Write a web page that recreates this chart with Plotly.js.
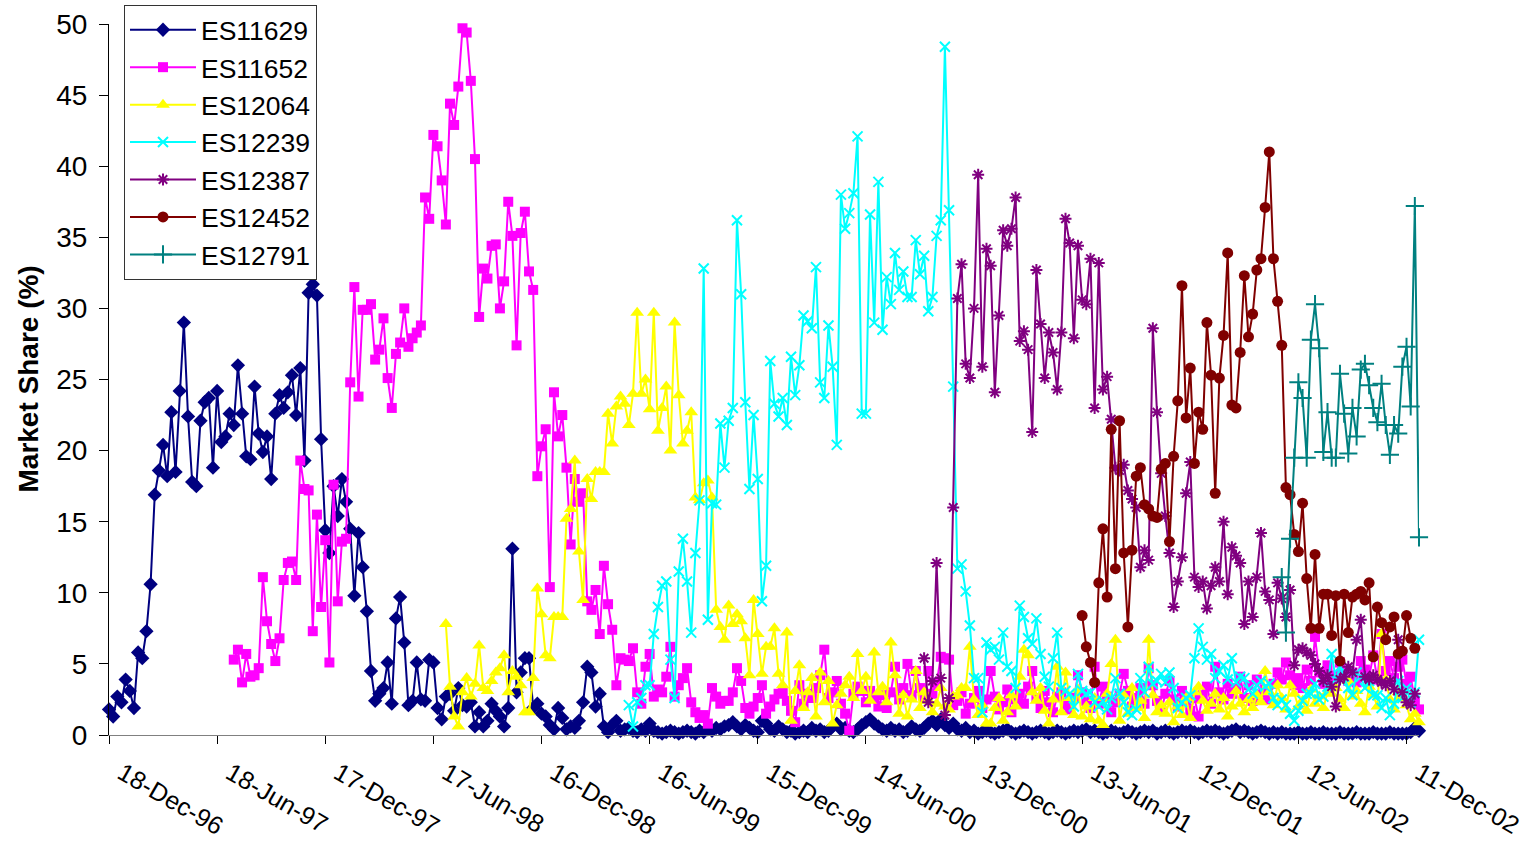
<!DOCTYPE html>
<html>
<head>
<meta charset="utf-8">
<script src="https://cdn.plot.ly/plotly-3.0.1.min.js"></script>
<style>html,body{margin:0;padding:0;background:#fff;}#chart{width:1526px;height:846px;}</style>
</head>
<body>
<div id="chart"></div>
<script>
// Weekly observations; index 0 = week of 18-Dec-96
const tickWeeks = [0, 26, 52, 78, 104, 130, 156, 182, 208, 234, 260, 286, 312];
const tickLabels = ["18-Dec-96", "18-Jun-97", "17-Dec-97", "17-Jun-98", "16-Dec-98", "16-Jun-99", "15-Dec-99", "14-Jun-00", "13-Dec-00", "13-Jun-01", "12-Dec-01", "12-Jun-02", "11-Dec-02"];
const yAxisTitle = "Market Share (%)";

const seriesNames = ["ES11629", "ES11652", "ES12064", "ES12239", "ES12387", "ES12452", "ES12791"];
const seriesStartWeek = [0, 30, 81, 125, 196, 234, 282];

const es11629 = [
1.8,1.3,2.7,2.3,3.9,3.1,1.9,5.8,5.4,7.3,
10.6,16.9,18.6,20.4,18.2,22.7,18.5,24.2,29.0,22.4,
17.8,17.5,22.1,23.4,23.7,18.8,24.2,20.6,21.0,22.6,
21.8,26.0,22.6,19.6,19.4,24.5,21.2,19.9,21.0,18.0,
22.6,23.9,23.0,24.1,25.3,22.5,25.8,19.3,31.1,31.7,
30.9,20.8,14.4,12.8,17.5,15.4,18.0,16.4,14.5,9.8,
14.2,11.8,8.7,4.5,2.4,2.9,3.3,5.1,2.2,8.2,
9.7,6.5,2.1,2.4,5.1,2.5,2.4,5.3,5.1,1.9,
1.1,2.7,2.9,1.7,3.3,2.1,2.0,2.3,0.6,1.6,
0.6,1.0,2.2,1.7,1.3,0.6,1.9,13.1,3.0,4.4,
5.4,5.4,1.9,2.2,1.5,1.3,0.7,0.4,1.9,1.2,
0.4,0.6,0.5,1.0,2.3,4.8,4.4,2.0,2.9,0.6,
0.2,0.7,1.0,0.3,0.4,
0.5,0.3,0.2,0.4,0.3,0.8,0.3,0.2,0.1,0.2,0.3,0.2,0.1,0.2,0.3,0.2,0.1,0.3,0.2,0.4,
0.3,0.5,0.4,0.6,0.7,0.9,0.6,0.4,0.7,0.5,0.3,0.2,1.0,0.8,0.4,0.3,0.6,0.4,0.2,0.3,
0.1,0.2,0.3,0.2,0.5,0.3,0.4,0.2,0.3,0.6,0.8,0.4,0.5,0.3,0.2,0.4,0.7,0.9,1.1,0.8,
0.6,0.4,0.3,0.5,0.3,0.4,0.2,0.3,0.6,0.4,0.3,0.5,0.8,1.0,0.7,1.1,0.7,0.5,0.8,0.4,
0.3,0.5,0.2,0.3,0.1,0.2,0.3,0.2,0.1,0.2,0.3,0.4,0.2,0.1,0.2,0.3,0.2,0.1,0.2,0.3,
0.2,0.1,0.2,0.3,0.2,0.1,0.2,0.3,0.2,0.3,0.4,0.2,0.3,0.2,0.1,0.2,0.3,0.2,0.1,0.2,
0.3,0.2,0.1,0.2,0.3,0.2,0.3,0.1,0.2,0.3,0.2,0.1,0.2,0.3,0.2,0.3,0.2,0.1,0.2,0.3,
0.2,0.3,0.2,0.1,0.2,0.3,0.4,0.2,0.3,0.2,0.1,0.2,0.3,0.2,0.1,0.2,0.1,0.2,0.1,0.1,
0.1,0.2,0.1,0.1,0.2,0.1,0.1,0.2,0.1,0.1,0.1,0.2,0.1,0.1,0.1,0.2,0.1,0.1,0.1,0.2,
0.1,0.1,0.1,0.2,0.1,0.1,0.1,0.1,0.2,0.5,0.3
];

const es11652 = [
5.3,6.0,3.7,5.7,4.1,4.2,4.7,11.1,8.0,6.4,
5.2,6.8,10.9,12.1,12.2,10.9,19.3,17.3,17.2,7.3,
15.5,9.0,13.7,5.1,17.6,9.4,13.6,13.8,24.8,31.5,
23.8,29.9,29.9,30.3,26.4,27.1,29.3,25.1,23.0,26.8,
27.6,30.0,27.3,27.9,28.3,28.8,37.8,36.3,42.2,41.4,
39.0,35.9,44.4,42.9,45.6,49.7,49.4,46.0,40.5,29.4,
32.8,32.1,34.4,34.5,30.0,31.9,37.5,35.1,27.4,35.3,
36.8,32.6,31.3,18.2,20.3,21.5,10.4,24.1,21.0,22.5,
18.8,13.4,18.0,16.4,17.0,9.4,8.8,10.2,7.1,11.9,
9.2,7.4,3.5,5.4,5.3,5.2,6.1,3.0,2.2,4.8,
5.7,2.7,3.2,3.0,4.1,6.2,2.7,3.5,4.0,4.7,
2.3,1.6,1.2,1.4,0.8,3.3,2.7,2.2,2.4,2.4,
3.0,4.7,3.8,1.9,1.5,2.0,2.6,3.5,1.5,2.0,2.5,2.9,3.0,
2.4,1.7,0.9,3.5,2.2,2.9,2.6,3.3,4.2,6.0,2.6,3.0,3.8,2.2,1.5,0.3,2.9,3.4,3.1,2.3,
3.1,2.6,2.0,2.8,1.9,3.0,4.8,2.5,3.3,5.0,2.8,4.5,3.3,2.6,4.5,2.9,3.6,5.5,5.4,5.3,
2.1,2.4,3.0,1.5,2.2,2.6,3.1,1.9,2.5,4.5,2.7,1.8,2.3,3.2,1.6,2.5,2.9,2.2,3.4,4.5,
2.6,1.9,3.1,2.3,1.6,2.7,3.0,2.1,1.8,2.6,4.2,3.0,2.4,1.9,4.8,2.2,3.4,2.7,1.6,2.3,
2.9,4.3,3.1,2.0,2.6,3.3,2.2,4.7,3.5,2.4,1.8,2.9,3.8,2.5,2.0,3.1,2.4,1.7,2.6,1.3,
2.8,3.4,2.2,4.8,3.0,2.5,3.6,2.9,3.3,4.1,2.6,3.5,2.4,3.9,2.8,3.2,2.5,3.6,4.4,3.9,
5.1,4.2,3.5,4.0,3.3,4.6,3.8,6.9,4.4,3.6,4.9,3.9,4.2,5.1,4.5,3.8,4.4,3.7,5.2,4.6,
4.1,5.6,3.9,7.1,4.5,5.2,4.0,4.8,5.3,3.6,4.1,2.4,1.8
];

const es12064 = [
7.8,3.4,1.3,0.6,3.0,4.0,2.7,3.6,6.3,3.3,
3.1,3.8,4.4,4.7,5.6,3.0,4.5,4.1,3.5,1.6,
1.6,4.0,10.3,8.5,5.6,5.4,8.3,8.3,8.3,15.2,
15.9,19.3,12.9,9.5,18.0,16.6,18.5,18.5,18.5,22.6,
20.5,23.1,23.8,23.3,21.8,24.0,29.7,24.0,25.0,22.9,
29.7,21.4,23.0,24.5,20.0,29.0,23.9,20.5,21.4,22.7,
16.7,16.5,17.7,17.9,16.7,8.8,7.6,6.7,9.1,7.8,
8.5,8.0,6.8,4.2,9.5,7.1,4.3,6.2,6.2,7.5,4.3,3.5,7.2,
1.0,3.1,4.9,1.9,3.0,4.0,1.3,4.4,2.3,3.8,0.8,2.1,2.9,3.5,4.1,2.6,5.7,3.1,4.1,2.4,
5.8,3.0,3.4,2.3,6.5,4.2,1.5,2.8,1.3,2.5,4.5,1.9,3.0,2.4,1.6,2.2,3.3,2.0,1.8,2.7,
2.8,3.3,3.3,6.2,2.5,1.4,2.1,0.8,0.8,1.9,2.6,1.0,1.6,2.8,2.0,4.1,6.0,5.6,3.0,2.4,
3.3,1.7,0.8,2.5,4.8,1.6,4.4,2.6,1.4,3.2,1.3,2.0,1.1,2.6,1.0,0.7,2.9,5.0,6.7,1.0,
2.8,1.5,3.3,1.9,2.4,1.2,6.7,2.8,1.6,2.1,1.5,2.3,0.9,
2.0,1.4,2.6,1.2,3.0,3.4,2.4,1.7,2.2,2.9,1.8,2.6,1.3,2.0,3.1,2.2,1.6,2.5,1.9,2.8,
2.3,4.5,3.0,2.1,3.5,2.6,1.8,3.5,2.9,2.0,2.4,1.7,3.2,2.2,2.7,1.9,3.0,2.9,3.3,2.5,
1.9,3.8,2.7,3.1,2.2,1.6,3.4,2.8,2.0,7.1,3.9,2.5,1.8,3.0,2.6,2.1,1.1,1.5,0.9
];

const es12239 = [
2.1,0.6,2.3,2.6,3.5,3.5,7.1,9.0,10.5,10.8,
5.3,2.6,11.5,13.8,10.8,7.2,12.8,16.5,32.8,8.1,
16.3,16.2,21.9,18.8,22.1,23.0,36.2,31.0,23.4,17.3,
22.5,18.0,9.4,11.9,26.3,23.3,22.4,23.7,21.8,26.6,
23.9,26.0,29.5,29.1,28.6,32.9,24.8,23.7,28.8,25.9,
20.4,38.0,35.6,36.7,38.1,42.1,22.6,22.6,36.6,29.0,
38.9,28.5,32.2,30.3,33.9,31.3,32.6,30.8,30.8,34.8,
32.4,33.7,29.8,30.8,35.1,36.2,48.4,36.9,24.5,11.7,
12.0,10.1,7.7,4.0,4.0,1.6,6.5,6.0,6.2,5.3,
7.2,4.8,4.5,3.3,9.1,8.3,6.8,6.4,8.2,5.7,
4.1,3.4,5.4,7.2,3.3,3.1,2.9,2.0,4.3,3.1,
2.9,3.0,2.3,2.0,2.4,1.8,2.6,4.0,2.9,2.3,
1.6,1.4,1.8,4.0,3.0,4.8,3.6,3.8,4.3,3.7,
4.4,3.3,1.9,2.3,2.6,2.8,5.4,7.5,6.2,5.3,
5.7,4.0,4.5,4.9,3.9,5.4,3.7,4.1,4.0,3.2,
2.9,3.5,3.8,3.4,3.6,2.6,2.1,2.5,2.1,1.5,
1.0,1.7,2.4,2.9,2.9,3.6,2.5,2.7,3.4,5.7,
3.9,4.8,4.1,3.3,2.8,4.4,4.1,3.3,3.8,2.8,
2.8,1.9,2.6,1.4,2.2,3.8,2.6,3.3,2.3,3.0,
6.7
];

const es12387 = [
5.4,2.3,3.8,12.1,4.0,1.4,2.6,16.0,30.7,33.1,
26.1,25.1,30.0,39.4,25.9,34.2,33.0,24.1,29.5,35.5,
34.4,35.6,37.8,27.7,28.4,27.1,21.3,32.7,28.9,25.1,
28.3,26.9,24.3,28.3,36.3,34.6,27.9,34.4,30.6,30.3,
33.5,23.0,33.2,24.3,25.2,22.2,18.8,18.6,19.0,17.2,
16.6,16.0,11.8,13.0,12.3,28.6,22.7,18.4,15.4,12.8,
9.0,10.8,12.5,17.0,19.2,11.1,10.4,10.8,8.9,10.5,
11.8,10.8,15.0,9.9,13.2,12.6,12.1,7.8,10.8,8.3,
11.1,14.2,10.1,9.5,7.1,10.7,9.6,8.3,10.2,4.9,
6.0,6.1,5.8,5.6,5.0,4.5,3.8,4.2,3.4,2.0,
3.9,4.1,4.8,4.4,6.7,8.1,4.1,3.9,4.2,3.9,
3.7,3.5,3.8,3.2,6.7,3.0,2.3,2.1,2.9
];

const es12452 = [
8.4,6.2,5.1,3.7,10.7,14.5,9.7,21.5,11.7,22.1,
12.8,7.6,13.0,18.2,18.8,16.2,15.9,15.4,15.3,18.7,
19.1,13.6,19.6,23.5,31.6,22.3,25.8,19.1,22.7,21.5,
29.0,25.3,17.0,25.1,28.1,33.9,23.2,23.0,26.9,32.3,
28.0,29.6,32.7,33.5,37.1,41.0,33.5,30.5,27.4,17.4,
16.9,14.1,12.9,16.3,11.0,7.5,12.7,7.5,9.9,9.9,
7.0,9.8,5.2,9.9,7.2,9.7,9.9,10.1,9.5,10.7,
5.5,9.0,7.9,6.7,7.6,8.3,5.7,5.9,8.4,6.8,
6.1
];

const es12791 = [
11.1,7.2,13.8,19.5,24.8,23.7,19.5,27.8,30.3,27.2,
19.9,22.7,19.5,19.5,25.4,22.6,19.8,23.0,21.0,25.7,
26.1,24.6,23.0,22.0,24.7,21.8,19.7,21.8,21.2,25.9,
27.3,23.1,37.2,13.9
];

const seriesValues = [es11629, es11652, es12064, es12239, es12387, es12452, es12791];
const seriesColors = ["#000080", "#FF00FF", "#FFFF00", "#00FFFF", "#800080", "#800000", "#008080"];
const seriesSymbols = ["diamond", "square", "triangle-up", "x-thin-open", "asterisk-open", "circle", "cross-thin-open"];
const seriesSizes = [11, 10, 12, 10, 10, 11, 13];

const FONT = "Liberation Sans, Arial, sans-serif";

const traces = seriesNames.map((name, k) => {
  const vals = seriesValues[k];
  const xs = vals.map((_, i) => seriesStartWeek[k] + i);
  const open = seriesSymbols[k].indexOf("open") >= 0;
  return {
    type: "scatter",
    mode: "lines+markers",
    name: name,
    x: xs,
    y: vals,
    cliponaxis: false,
    line: {color: seriesColors[k], width: 2},
    marker: {
      symbol: seriesSymbols[k],
      size: seriesSizes[k],
      color: seriesColors[k],
      line: open ? {color: seriesColors[k], width: 2} : {width: 0}
    },
    hoverinfo: "skip"
  };
});

const layout = {
  width: 1526,
  height: 846,
  margin: {l: 109, r: 107, t: 24, b: 111, pad: 0, autoexpand: false},
  paper_bgcolor: "#ffffff",
  plot_bgcolor: "#ffffff",
  showlegend: true,
  font: {family: FONT, color: "#000000", size: 25},
  xaxis: {
    range: [0, 315],
    tickmode: "array",
    tickvals: tickWeeks,
    ticktext: tickLabels,
    tickangle: 30,
    ticks: "outside",
    ticklen: 8,
    tickcolor: "#000000",
    ticklabelshift: 13,
    ticklabelstandoff: 5,
    tickfont: {family: FONT, size: 25, color: "#000000"},
    showline: true,
    linecolor: "#808080",
    linewidth: 1,
    showgrid: false,
    zeroline: false,
    automargin: false,
    fixedrange: true
  },
  yaxis: {
    range: [0, 50],
    tickmode: "linear",
    tick0: 0,
    dtick: 5,
    ticks: "outside",
    ticklen: 9,
    tickcolor: "#000000",
    ticklabelstandoff: 6,
    tickfont: {family: FONT, size: 28, color: "#000000"},
    showline: true,
    linecolor: "#000000",
    linewidth: 1,
    showgrid: false,
    zeroline: false,
    automargin: false,
    fixedrange: true
  },
  annotations: [{
    xref: "paper",
    yref: "paper",
    x: -81 / 1310,
    y: 0.5,
    xanchor: "center",
    yanchor: "middle",
    textangle: -90,
    showarrow: false,
    text: "<b>" + yAxisTitle + "</b>",
    font: {family: FONT, size: 28, color: "#000000"}
  }],
  legend: {
    xref: "container",
    yref: "container",
    x: 124 / 1526,
    y: 1 - 5 / 846,
    xanchor: "left",
    yanchor: "top",
    bgcolor: "#ffffff",
    bordercolor: "#333333",
    borderwidth: 1,
    itemwidth: 66,
    font: {family: FONT, size: 26.5, color: "#000000"},
    tracegroupgap: 0
  }
};

Plotly.newPlot("chart", traces, layout, {staticPlot: true, displayModeBar: false});
</script>
</body>
</html>
